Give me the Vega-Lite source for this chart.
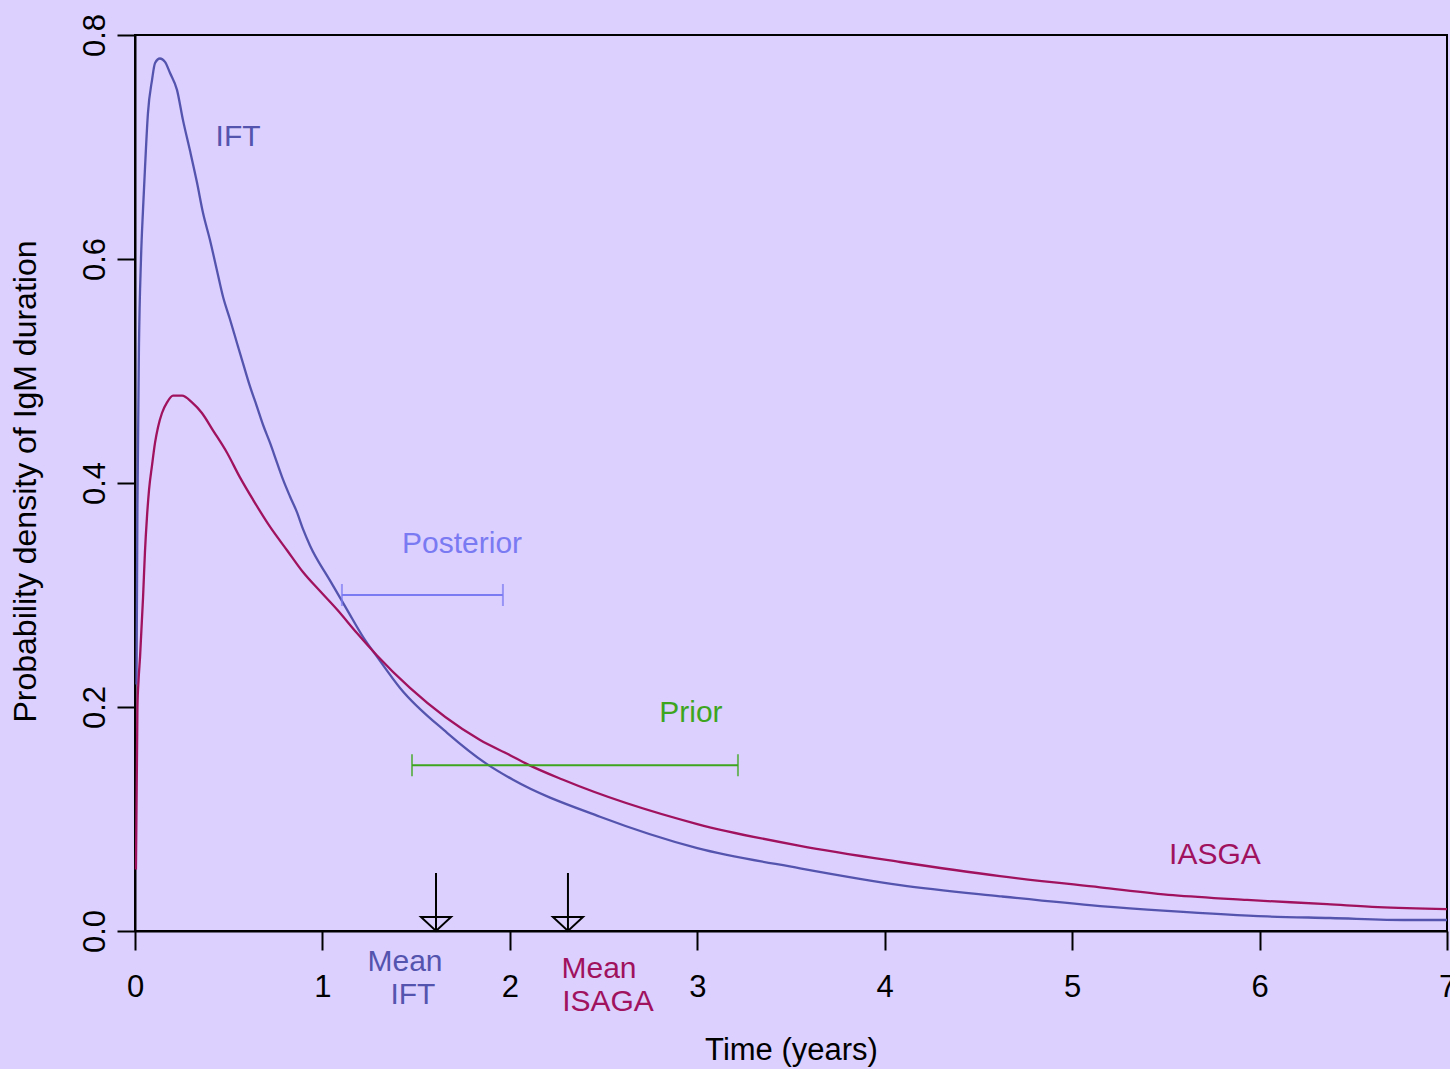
{
  "$schema": "https://vega.github.io/schema/vega-lite/v6.json",
  "width": 1312,
  "height": 896,
  "autosize": {"type": "none"},
  "padding": {"left": 135, "top": 35, "right": 3, "bottom": 138},
  "background": "#DCD0FF",
  "config": {
    "view": {"stroke": "black", "strokeWidth": 2},
    "font": "Liberation Sans"
  },
  "datasets": {
    "curves": [
      {"group": "IFT", "x": 0.008, "y": 0.22},
      {"group": "IFT", "x": 0.013, "y": 0.38},
      {"group": "IFT", "x": 0.021, "y": 0.52},
      {"group": "IFT", "x": 0.032, "y": 0.6},
      {"group": "IFT", "x": 0.043, "y": 0.645},
      {"group": "IFT", "x": 0.053, "y": 0.68},
      {"group": "IFT", "x": 0.069, "y": 0.73},
      {"group": "IFT", "x": 0.091, "y": 0.76},
      {"group": "IFT", "x": 0.107, "y": 0.775},
      {"group": "IFT", "x": 0.133, "y": 0.779},
      {"group": "IFT", "x": 0.16, "y": 0.776},
      {"group": "IFT", "x": 0.187, "y": 0.766},
      {"group": "IFT", "x": 0.224, "y": 0.751},
      {"group": "IFT", "x": 0.256, "y": 0.724},
      {"group": "IFT", "x": 0.293, "y": 0.697},
      {"group": "IFT", "x": 0.331, "y": 0.668},
      {"group": "IFT", "x": 0.363, "y": 0.641},
      {"group": "IFT", "x": 0.4, "y": 0.617},
      {"group": "IFT", "x": 0.437, "y": 0.59},
      {"group": "IFT", "x": 0.47, "y": 0.566},
      {"group": "IFT", "x": 0.507, "y": 0.546},
      {"group": "IFT", "x": 0.544, "y": 0.525},
      {"group": "IFT", "x": 0.576, "y": 0.507},
      {"group": "IFT", "x": 0.614, "y": 0.486},
      {"group": "IFT", "x": 0.651, "y": 0.468},
      {"group": "IFT", "x": 0.683, "y": 0.452},
      {"group": "IFT", "x": 0.72, "y": 0.436},
      {"group": "IFT", "x": 0.758, "y": 0.418},
      {"group": "IFT", "x": 0.79, "y": 0.403},
      {"group": "IFT", "x": 0.827, "y": 0.388},
      {"group": "IFT", "x": 0.864, "y": 0.374},
      {"group": "IFT", "x": 0.896, "y": 0.359},
      {"group": "IFT", "x": 0.934, "y": 0.344},
      {"group": "IFT", "x": 1.04, "y": 0.313},
      {"group": "IFT", "x": 1.131, "y": 0.287},
      {"group": "IFT", "x": 1.217, "y": 0.2625},
      {"group": "IFT", "x": 1.291, "y": 0.245},
      {"group": "IFT", "x": 1.414, "y": 0.217},
      {"group": "IFT", "x": 1.665, "y": 0.177},
      {"group": "IFT", "x": 1.878, "y": 0.149},
      {"group": "IFT", "x": 2.017, "y": 0.135},
      {"group": "IFT", "x": 2.481, "y": 0.102},
      {"group": "IFT", "x": 3.0, "y": 0.074},
      {"group": "IFT", "x": 3.548, "y": 0.056},
      {"group": "IFT", "x": 4.082, "y": 0.041},
      {"group": "IFT", "x": 4.615, "y": 0.031},
      {"group": "IFT", "x": 5.149, "y": 0.0223},
      {"group": "IFT", "x": 5.506, "y": 0.018},
      {"group": "IFT", "x": 6.04, "y": 0.013},
      {"group": "IFT", "x": 6.376, "y": 0.0116},
      {"group": "IFT", "x": 6.792, "y": 0.0098},
      {"group": "IFT", "x": 7.0, "y": 0.0098},
      {"group": "IASGA", "x": 0.005, "y": 0.055},
      {"group": "IASGA", "x": 0.013, "y": 0.2},
      {"group": "IASGA", "x": 0.019, "y": 0.224},
      {"group": "IASGA", "x": 0.027, "y": 0.245},
      {"group": "IASGA", "x": 0.043, "y": 0.298},
      {"group": "IASGA", "x": 0.053, "y": 0.338},
      {"group": "IASGA", "x": 0.064, "y": 0.37},
      {"group": "IASGA", "x": 0.075, "y": 0.394},
      {"group": "IASGA", "x": 0.091, "y": 0.416},
      {"group": "IASGA", "x": 0.107, "y": 0.436},
      {"group": "IASGA", "x": 0.123, "y": 0.45},
      {"group": "IASGA", "x": 0.144, "y": 0.4625},
      {"group": "IASGA", "x": 0.171, "y": 0.472},
      {"group": "IASGA", "x": 0.203, "y": 0.478},
      {"group": "IASGA", "x": 0.251, "y": 0.478},
      {"group": "IASGA", "x": 0.304, "y": 0.472},
      {"group": "IASGA", "x": 0.357, "y": 0.4625},
      {"group": "IASGA", "x": 0.416, "y": 0.447},
      {"group": "IASGA", "x": 0.491, "y": 0.427},
      {"group": "IASGA", "x": 0.56, "y": 0.405},
      {"group": "IASGA", "x": 0.63, "y": 0.385},
      {"group": "IASGA", "x": 0.72, "y": 0.361},
      {"group": "IASGA", "x": 0.811, "y": 0.34},
      {"group": "IASGA", "x": 0.896, "y": 0.3205},
      {"group": "IASGA", "x": 0.987, "y": 0.3035},
      {"group": "IASGA", "x": 1.078, "y": 0.287},
      {"group": "IASGA", "x": 1.184, "y": 0.266},
      {"group": "IASGA", "x": 1.291, "y": 0.246},
      {"group": "IASGA", "x": 1.467, "y": 0.217},
      {"group": "IASGA", "x": 1.841, "y": 0.1705},
      {"group": "IASGA", "x": 2.001, "y": 0.157},
      {"group": "IASGA", "x": 2.092, "y": 0.149},
      {"group": "IASGA", "x": 2.284, "y": 0.135},
      {"group": "IASGA", "x": 3.0, "y": 0.0955},
      {"group": "IASGA", "x": 3.548, "y": 0.076},
      {"group": "IASGA", "x": 4.082, "y": 0.0616},
      {"group": "IASGA", "x": 4.615, "y": 0.049},
      {"group": "IASGA", "x": 5.149, "y": 0.039},
      {"group": "IASGA", "x": 5.538, "y": 0.032},
      {"group": "IASGA", "x": 5.933, "y": 0.0277},
      {"group": "IASGA", "x": 6.36, "y": 0.024},
      {"group": "IASGA", "x": 6.632, "y": 0.0214},
      {"group": "IASGA", "x": 7.0, "y": 0.0196}
    ],
    "intervals": [
      {"group": "Posterior", "x": 1.104, "x2": 1.963, "y": 0.3},
      {"group": "Prior", "x": 1.478, "x2": 3.217, "y": 0.148}
    ],
    "labels": [
      {"group": "IFT", "label": "IFT", "x": 0.55, "y": 0.709},
      {"group": "Posterior", "label": "Posterior", "x": 1.745, "y": 0.3455},
      {"group": "Prior", "label": "Prior", "x": 2.966, "y": 0.1946},
      {"group": "IASGA", "label": "IASGA", "x": 5.762, "y": 0.068},
      {"group": "IFT", "label": "Mean", "x": 1.4405, "y": -0.0277},
      {"group": "IFT", "label": "IFT", "x": 1.483, "y": -0.0571},
      {"group": "IASGA", "label": "Mean", "x": 2.4756, "y": -0.0339},
      {"group": "IASGA", "label": "ISAGA", "x": 2.5236, "y": -0.0634}
    ],
    "means": [
      {"group": "IFT", "x": 1.606, "y": 0.0518, "y2": 0},
      {"group": "IASGA", "x": 2.31, "y": 0.0518, "y2": 0}
    ]
  },
  "encoding": {
    "x": {
      "field": "x",
      "type": "quantitative",
      "scale": {"domain": [0, 7], "nice": false, "zero": false},
      "axis": {
        "title": "Time (years)",
        "values": [0, 1, 2, 3, 4, 5, 6, 7],
        "format": "d",
        "grid": false,
        "tickSize": 19,
        "tickWidth": 2,
        "tickColor": "black",
        "domainColor": "black",
        "domainWidth": 2,
        "labelFont": "Liberation Sans",
        "labelFontSize": 31,
        "labelColor": "black",
        "labelPadding": 46,
        "labelBaseline": "alphabetic",
        "labelFlush": false,
        "labelOverlap": false,
        "titleFont": "Liberation Sans",
        "titleFontSize": 31,
        "titleFontWeight": "normal",
        "titleColor": "black",
        "titleBaseline": "alphabetic",
        "titleAlign": "center",
        "titleX": 656,
        "titleY": 128
      }
    },
    "y": {
      "field": "y",
      "type": "quantitative",
      "scale": {"domain": [0, 0.8], "nice": false},
      "axis": {
        "title": "Probability density of IgM duration",
        "values": [0, 0.2, 0.4, 0.6, 0.8],
        "format": ".1f",
        "grid": false,
        "tickSize": 18,
        "tickWidth": 2,
        "tickColor": "black",
        "domainColor": "black",
        "domainWidth": 2,
        "labelFont": "Liberation Sans",
        "labelFontSize": 31,
        "labelColor": "black",
        "labelAngle": 270,
        "labelAlign": "center",
        "labelBaseline": "alphabetic",
        "labelPadding": 13,
        "labelFlush": false,
        "labelOverlap": false,
        "titleFont": "Liberation Sans",
        "titleFontSize": 32,
        "titleFontWeight": "normal",
        "titleColor": "black",
        "titleAngle": 270,
        "titleAlign": "center",
        "titleBaseline": "alphabetic",
        "titleX": -100,
        "titleY": 446
      }
    }
  },
  "layer": [
    {
      "data": {"name": "curves"},
      "mark": {"type": "line", "strokeWidth": 2.3, "interpolate": "monotone"},
      "encoding": {
        "color": {
          "field": "group",
          "type": "nominal",
          "scale": {"domain": ["IFT", "IASGA", "Posterior", "Prior"], "range": ["#5454AE", "#A0125E", "#7A7AF2", "#3DA61E"]},
          "legend": null
        }
      }
    },
    {
      "data": {"name": "intervals"},
      "mark": {"type": "errorbar", "thickness": 2, "ticks": {"size": 22, "thickness": 2}},
      "encoding": {
        "x2": {"field": "x2"},
        "color": {"field": "group", "type": "nominal", "legend": null}
      }
    },
    {
      "data": {"name": "means"},
      "mark": {"type": "rule", "color": "black", "strokeWidth": 2},
      "encoding": {
        "y2": {"field": "y2"}
      }
    },
    {
      "data": {"name": "means"},
      "mark": {"type": "point", "shape": "M-1,-0.93L1,-0.93L0,0Z", "size": 900, "filled": false, "stroke": "black", "strokeWidth": 2, "opacity": 1},
      "encoding": {
        "y": {"field": "y2", "type": "quantitative"}
      }
    },
    {
      "data": {"name": "labels"},
      "mark": {"type": "text", "fontSize": 30, "font": "Liberation Sans", "align": "center", "baseline": "middle"},
      "encoding": {
        "text": {"field": "label"},
        "color": {"field": "group", "type": "nominal", "legend": null}
      }
    }
  ]
}
